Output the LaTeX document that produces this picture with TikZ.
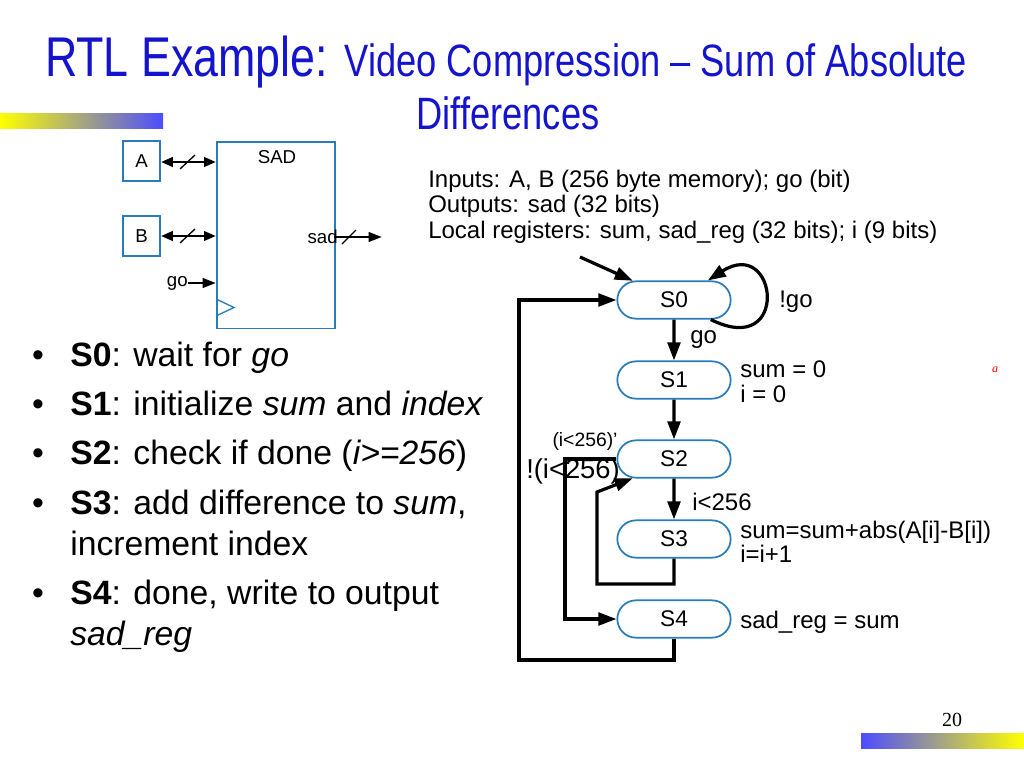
\documentclass[tikz,border=0pt]{standalone}
\usepackage{fontspec}
\setmainfont{Liberation Sans}
\newfontfamily\titlefont[FakeStretch=0.80]{Liberation Sans}
\newfontfamily\serifnum{Liberation Serif}
\usetikzlibrary{arrows.meta,shapes.misc}
\definecolor{titleblue}{RGB}{20,20,205}
\definecolor{boxblue}{RGB}{40,125,185}
\begin{document}
\begin{tikzpicture}[x=0.75pt,y=-0.75pt,
  arr/.style={line width=2.4pt,-{Triangle[length=13.5pt,width=9.5pt]}},
  sarr/.style={line width=2pt,-{Triangle[length=10pt,width=7pt]}},
  darr/.style={line width=2.2pt,{Triangle[length=9pt,width=7pt]}-{Triangle[length=9pt,width=7pt]}},
  state/.style={rounded rectangle,draw=boxblue,line width=1.3pt,minimum width=85pt,minimum height=28pt,inner sep=0pt,font=\fontsize{17}{20}\selectfont},
  blk/.style={draw=boxblue,line width=1.3pt,inner sep=0pt},
  small/.style={font=\fontsize{14}{16}\selectfont,inner sep=0pt},
  lab/.style={font=\fontsize{18}{21}\selectfont,inner sep=0pt},
  info/.style={font=\fontsize{18}{21}\selectfont,inner sep=0pt,anchor=base west},
  bul/.style={font=\fontsize{25.3}{30}\selectfont,inner sep=0pt,anchor=base west},
  ttl/.style={font=\titlefont,text=titleblue,inner sep=0pt,anchor=base}]
\useasboundingbox (0,0) rectangle (1024,768);
\fill[white] (0,0) rectangle (1024,768);
% gradient bars
\shade[left color=yellow,right color=blue!70!white] (0,113) rectangle (163,128);
\shade[left color=blue!70!white,right color=yellow] (861,733) rectangle (1024,748);
% title
\node[ttl] (t1) at (506,76) {\fontsize{42}{46}\selectfont RTL Example: \fontsize{34}{38}\selectfont Video Compression – Sum of Absolute};
\node[ttl] (t2) at (508,129) {\fontsize{34}{38}\selectfont Differences};
% SAD block
\node[blk,minimum width=88.5pt,minimum height=140pt,anchor=north west] (sad) at (216,141) {};
\node[small] (sadl) at (277,157) {SAD};
\node[blk,minimum width=27.75pt,minimum height=30pt] (A) at (141.5,161) {\fontsize{14}{16}\selectfont A};
\node[blk,minimum width=27.75pt,minimum height=30pt] (B) at (141.5,236) {\fontsize{14}{16}\selectfont B};
\coordinate (Ain) at (216,162);
\coordinate (Bin) at (216,236);
\draw[darr] (A.east |- Ain) -- (Ain);
\draw[darr] (B.east |- Bin) -- (Bin);
\draw[line width=1pt] (180,169) -- (195,155);
\draw[line width=1pt] (180,243) -- (195,229);
\node[small,anchor=east] (go) at (188,283) {go};
\coordinate (goin) at (216,283);
\draw[sarr] (go.east) -- (goin);
\draw[draw=boxblue,line width=1pt] (216,299) -- (234,307.5) -- (216,316);
\node[small,anchor=east] (sadout) at (338,237) {sad};
\coordinate (sado) at (382,237);
\draw[sarr] (334,237) -- (sado);
\draw[line width=1pt] (342,244) -- (356,230);
% info text
\node[info] (i1) at (428,187) {Inputs: A, B (256 byte memory); go (bit)};
\node[info] (i2) at (428,212) {Outputs: sad (32 bits)};
\node[info] (i3) at (428,238) {Local registers: sum, sad\_reg (32 bits); i (9 bits)};
% states
\node[state] (S0) at (674,300) {S0};
\node[state] (S1) at (674,380) {S1};
\node[state] (S2) at (674,459) {S2};
\node[state] (S3) at (674,539) {S3};
\node[state] (S4) at (674,619) {S4};
\coordinate (init) at (580,257);
\draw[arr] (init) -- (S0.155);
\draw[arr] (S0.-28) .. controls +(80,40) and +(70,-45) .. (S0.30);
\node[lab,anchor=west] (ngo) at (779,302) {!go};
\draw[arr] (S0) -- (S1);
\node[lab,anchor=west] (golab) at (690,340) {go};
\draw[arr] (S1) -- (S2);
\draw[arr] (S2) -- (S3);
\node[lab,anchor=west] (ilt) at (692,502) {i<256};
\coordinate (l3a) at (597,584);
\coordinate (l3b) at (597,492);
\draw[arr] (S3.south) |- (l3a) -- (l3b) -- (S2.205);
\coordinate (l2a) at (565,459);
\draw[arr] (S2.west) -- (l2a) |- (S4.west);
\coordinate (l4) at (519,660);
\draw[arr] (S4.south) |- (l4) |- (S0.west);
\node[inner sep=0pt,font=\fontsize{14.5}{16}\selectfont] (nlt1) at (585,441) {(i<256)’};
\node[inner sep=0pt,font=\fontsize{20.5}{24}\selectfont] (nlt2) at (573,471) {!(i<256)};
% actions
\node[info] (a1) at (740,377) {sum = 0};
\node[info] (a2) at (740,402) {i = 0};
\node[info] (a3) at (740,538) {sum=sum+abs(A[i]-B[i])};
\node[info] (a4) at (740,562) {i=i+1};
\node[info] (a5) at (740,628) {sad\_reg = sum};
% bullets
\node[bul,anchor=base] (b1) at (38,366) {•};
\node[bul] (bt1) at (70,366) {\textbf{S0}: wait for \textit{go}};
\node[bul,anchor=base] (b2) at (38,415) {•};
\node[bul] (bt2) at (70,415) {\textbf{S1}: initialize \textit{sum} and \textit{index}};
\node[bul,anchor=base] (b3) at (38,464) {•};
\node[bul] (bt3) at (70,464) {\textbf{S2}: check if done (\textit{i>=256})};
\node[bul,anchor=base] (b4) at (38,514) {•};
\node[bul] (bt4) at (70,514) {\textbf{S3}: add difference to \textit{sum},};
\node[bul] (bt4b) at (70,555) {increment index};
\node[bul,anchor=base] (b5) at (38,604) {•};
\node[bul] (bt5) at (70,604) {\textbf{S4}: done, write to output};
\node[bul] (bt5b) at (70,645) {\textit{sad\_reg}};
% page number and mark
\node[inner sep=0pt,anchor=base] (pg) at (952,726) {\serifnum\fontsize{15}{18}\selectfont 20};
\node[inner sep=0pt,text=red] (mark) at (995,370) {\serifnum\itshape\fontsize{9}{10}\selectfont a};
\end{tikzpicture}
\end{document}
